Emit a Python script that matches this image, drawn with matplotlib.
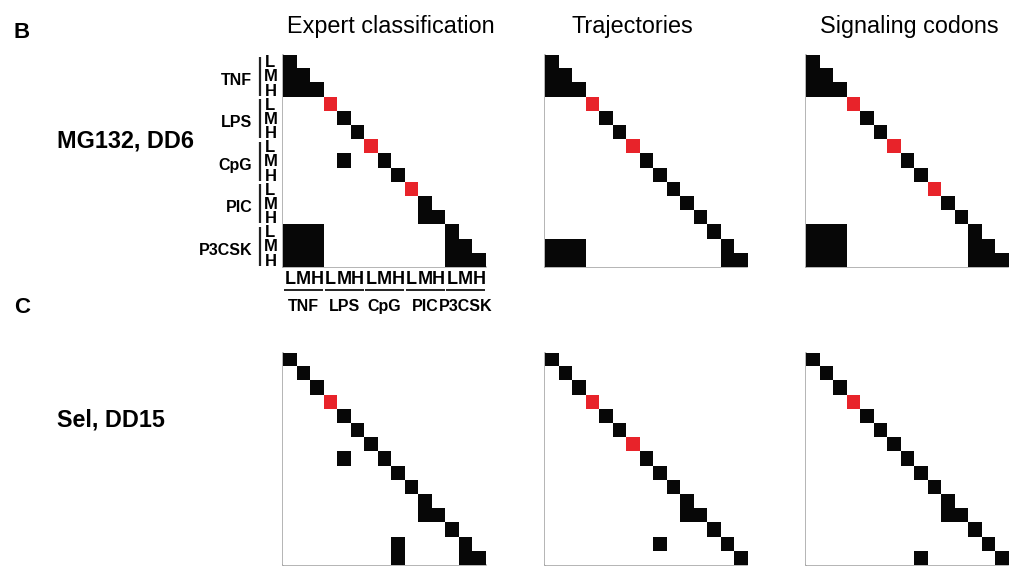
import matplotlib
matplotlib.use("Agg")
import matplotlib.pyplot as plt
import numpy as np
from matplotlib.colors import ListedColormap
from matplotlib import font_manager

# ---- labels -------------------------------------------------------------
ligands = ["TNF", "LPS", "CpG", "PIC", "P3CSK"]
doses = ["L", "M", "H"]
method_titles = ["Expert classification", "Trajectories", "Signaling codons"]
row_titles = ["MG132, DD6", "Sel, DD15"]
panel_letters = ["B", "C"]

# ---- confusion patterns: black cells per row (15 rows = ligand x dose) -----
# and diagonal indices that are drawn red
expert_B = [[0], [0, 1], [0, 1, 2], [], [4], [5], [], [4, 7], [8], [],
            [10], [10, 11], [0, 1, 2, 12], [0, 1, 2, 12, 13], [0, 1, 2, 12, 13, 14]]
expert_B_red = [3, 6, 9]

traj_B = [[0], [0, 1], [0, 1, 2], [], [4], [5], [], [7], [8], [9],
          [10], [11], [12], [0, 1, 2, 13], [0, 1, 2, 13, 14]]
traj_B_red = [3, 6]

codon_B = [[0], [0, 1], [0, 1, 2], [], [4], [5], [], [7], [8], [],
           [10], [11], [0, 1, 2, 12], [0, 1, 2, 12, 13], [0, 1, 2, 12, 13, 14]]
codon_B_red = [3, 6, 9]

expert_C = [[0], [1], [2], [], [4], [5], [6], [4, 7], [8], [9],
            [10], [10, 11], [12], [8, 13], [8, 13, 14]]
expert_C_red = [3]

traj_C = [[0], [1], [2], [], [4], [5], [], [7], [8], [9],
          [10], [10, 11], [12], [8, 13], [14]]
traj_C_red = [3, 6]

codon_C = [[0], [1], [2], [], [4], [5], [6], [7], [8], [9],
           [10], [10, 11], [12], [13], [8, 14]]
codon_C_red = [3]

panels = [
    [(expert_B, expert_B_red), (traj_B, traj_B_red), (codon_B, codon_B_red)],
    [(expert_C, expert_C_red), (traj_C, traj_C_red), (codon_C, codon_C_red)],
]

BLACK = "#070707"
RED = "#e8232a"
SPINE = "#a0a0a0"

names = {f.name for f in font_manager.fontManager.ttflist}
SANS = "Liberation Sans" if "Liberation Sans" in names else "DejaVu Sans"
NARROW = "Liberation Sans Narrow" if "Liberation Sans Narrow" in names else SANS
plt.rcParams["font.family"] = [SANS, "DejaVu Sans"]

W, H = 1013, 571
fig = plt.figure(figsize=(W / 100, H / 100), dpi=100)


def fx(x):
    return x / W


def fy(y):
    return 1 - y / H


n = len(ligands) * len(doses)
cmap = ListedColormap(["white", BLACK, RED])

col_x = [(283.3, 486.0), (545.0, 747.0), (806.0, 1008.3)]
row_y = [(55.0, 267.5), (352.7, 565.0)]

axes = {}
for r, (y0, y1) in enumerate(row_y):
    for c, (x0, x1) in enumerate(col_x):
        ax = fig.add_axes([fx(x0), fy(y1), fx(x1) - fx(x0), (y1 - y0) / H])
        blacks, reds = panels[r][c]
        grid = np.zeros((n, n))
        for i, cols in enumerate(blacks):
            for j in cols:
                grid[i, j] = 1
        for k in reds:
            grid[k, k] = 2
        ax.imshow(grid, cmap=cmap, vmin=0, vmax=2, extent=(0, n, n, 0),
                  aspect="auto", interpolation="nearest", zorder=1)
        ax.set_xlim(0, n)
        ax.set_ylim(n, 0)
        ax.set_xticks([])
        ax.set_yticks([])
        for s in ("top", "right"):
            ax.spines[s].set_visible(False)
        for s in ("left", "bottom"):
            ax.spines[s].set_color(SPINE)
            ax.spines[s].set_linewidth(1.1)
            ax.spines[s].set_zorder(0.5)
        axes[(r, c)] = ax

# ---- axis annotations on the first matrix --------------------------------
ax = axes[(0, 0)]
for g, lig in enumerate(ligands):
    yc = 3 * g + 1.5
    ax.text(-2.3, yc + 0.3, lig, ha="right", va="center", fontsize=11.5,
            fontweight="bold", clip_on=False)
    ax.plot([-1.72, -1.72], [3 * g + 0.12, 3 * g + 2.88], color="#222222",
            lw=1.6, clip_on=False, solid_capstyle="butt")
    for d, dose in enumerate(doses):
        ax.text(-0.95, 3 * g + d + 0.55, dose, ha="center", va="center",
                fontsize=12, fontweight="bold", family=NARROW, clip_on=False)
        ax.text(3 * g + d + 0.5, 15.88, dose, ha="center", va="center",
                fontsize=13, fontweight="bold", family=NARROW, clip_on=False)
    ax.plot([3 * g + 0.06, 3 * g + 2.94], [16.62, 16.62], color="#222222",
            lw=1.4, clip_on=False, solid_capstyle="butt")
    ax.text(3 * g + 1.5, 17.75, lig, ha="center", va="center", fontsize=11.5,
            fontweight="bold", clip_on=False)

# ---- titles ---------------------------------------------------------------
title_x = [391, 632.5, 909]
for t, x in zip(method_titles, title_x):
    fig.text(fx(x), fy(33), t, ha="center", va="baseline", fontsize=16.8)

fig.text(fx(13), fy(38), panel_letters[0], ha="left", va="baseline",
         fontsize=16, fontweight="bold")
fig.text(fx(14), fy(313), panel_letters[1], ha="left", va="baseline",
         fontsize=16, fontweight="bold")
fig.text(fx(57), fy(147.7), row_titles[0], ha="left", va="baseline",
         fontsize=16.8, fontweight="bold")
fig.text(fx(57), fy(427), row_titles[1], ha="left", va="baseline",
         fontsize=16.8, fontweight="bold")

fig.savefig("out.png", dpi=100)
